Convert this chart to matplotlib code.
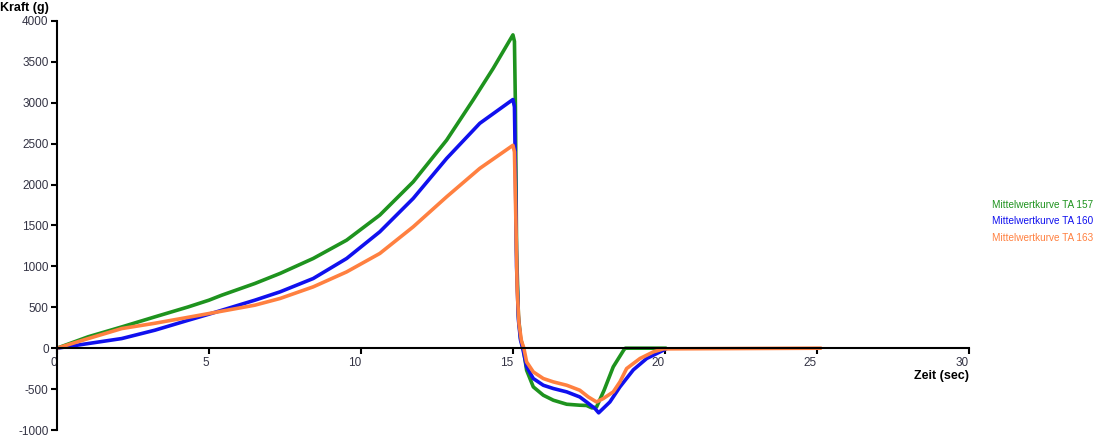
import numpy as np
import matplotlib.pyplot as plt

plt.rcParams['font.family'] = ['Liberation Sans', 'DejaVu Sans']
plt.rcParams['axes.unicode_minus'] = False

# Mittelwertkurve TA 157
t_157 = [0, 1.03, 2.13, 3.22, 4.32, 5.0, 5.42, 6.51, 7.34, 8.43, 9.53, 10.62, 11.72, 12.82, 13.69, 14.35, 15.0,
         15.05, 15.08, 15.12, 15.18, 15.25, 15.34, 15.45, 15.67, 16.0, 16.33, 16.77, 17.2, 17.42, 17.6, 17.75,
         18.0, 18.3, 18.65, 18.7, 20.0]
f_157 = [0, 140, 260, 383, 505, 587, 648, 791, 914, 1097, 1321, 1627, 2034, 2544, 3034, 3420, 3830,
         3750, 3000, 1200, 400, 120, 0, -269, -473, -575, -636, -685, -697, -700, -730, -720,
         -513, -228, -20, 0, 0]

# Mittelwertkurve TA 160
t_160 = [0, 1.03, 2.13, 3.22, 4.32, 5.0, 6.51, 7.34, 8.43, 9.53, 10.62, 11.72, 12.82, 13.91, 15.0,
         15.05, 15.08, 15.12, 15.18, 15.25, 15.32, 15.45, 15.67, 16.0, 16.33, 16.77, 17.2, 17.42, 17.7, 17.82,
         18.19, 18.52, 18.96, 19.4, 19.84, 20.0]
f_160 = [0, 57, 118, 220, 342, 416, 587, 689, 852, 1097, 1423, 1831, 2320, 2749, 3040,
         2950, 2200, 1000, 350, 100, 0, -228, -371, -453, -493, -534, -596, -657, -738, -790,
         -657, -473, -265, -126, -45, -15]

# Mittelwertkurve TA 163
t_163 = [0, 1.03, 2.13, 3.22, 4.32, 5.0, 6.51, 7.34, 8.43, 9.53, 10.62, 11.72, 12.82, 13.91, 15.0,
         15.05, 15.1, 15.14, 15.2, 15.28, 15.36, 15.45, 15.67, 16.0, 16.33, 16.77, 17.2, 17.48, 17.75, 17.97,
         18.3, 18.52, 18.74, 19.18, 19.62, 19.95, 25.1]
f_163 = [0, 118, 240, 305, 378, 424, 526, 608, 750, 933, 1158, 1484, 1851, 2198, 2480,
         2400, 1500, 700, 300, 90, 0, -167, -290, -371, -412, -453, -514, -596, -657, -616,
         -534, -412, -249, -126, -45, -8, 0]

labels = ['Mittelwertkurve TA 157', 'Mittelwertkurve TA 160', 'Mittelwertkurve TA 163']
colors = ['#1e931e', '#1010ee', '#ff8040']

fig = plt.figure(figsize=(11, 4.37), dpi=100)
ax = fig.add_axes([0.0518, 0.016, 0.829, 0.936])

ax.plot(t_157, f_157, color=colors[0], lw=2.6, solid_joinstyle='round')
ax.plot(t_160, f_160, color=colors[1], lw=2.6, solid_joinstyle='round')
ax.plot(t_163, f_163, color=colors[2], lw=2.6, solid_joinstyle='round')

ax.set_xlim(0, 30)
ax.set_ylim(-1000, 4000)
ax.spines['top'].set_visible(False)
ax.spines['right'].set_visible(False)
ax.spines['bottom'].set_position(('data', 0))
ax.spines['left'].set_linewidth(1.5)
ax.spines['bottom'].set_linewidth(1.5)
ax.set_xticks([0, 5, 10, 15, 20, 25, 30])
ax.set_yticks(np.arange(-1000, 4001, 500))
ax.tick_params(axis='both', direction='out', length=4, width=1.5, labelsize=8.5,
               labelcolor='#333344', pad=2)
for lbl in ax.get_xticklabels():
    lbl.set_horizontalalignment('right')

fig.text(0.0, 0.995, 'Kraft (g)', fontsize=9, fontweight='bold', va='top', ha='left')
fig.text(0.881, 1 - 376 / 437, 'Zeit (sec)', fontsize=9, fontweight='bold', va='center', ha='right')

for i, (lab, c) in enumerate(zip(labels, colors)):
    fig.text(0.902, 1 - (205 + 16.5 * i) / 437, lab, color=c, fontsize=7.2, va='center', ha='left')

plt.savefig('out.png', dpi=100)
